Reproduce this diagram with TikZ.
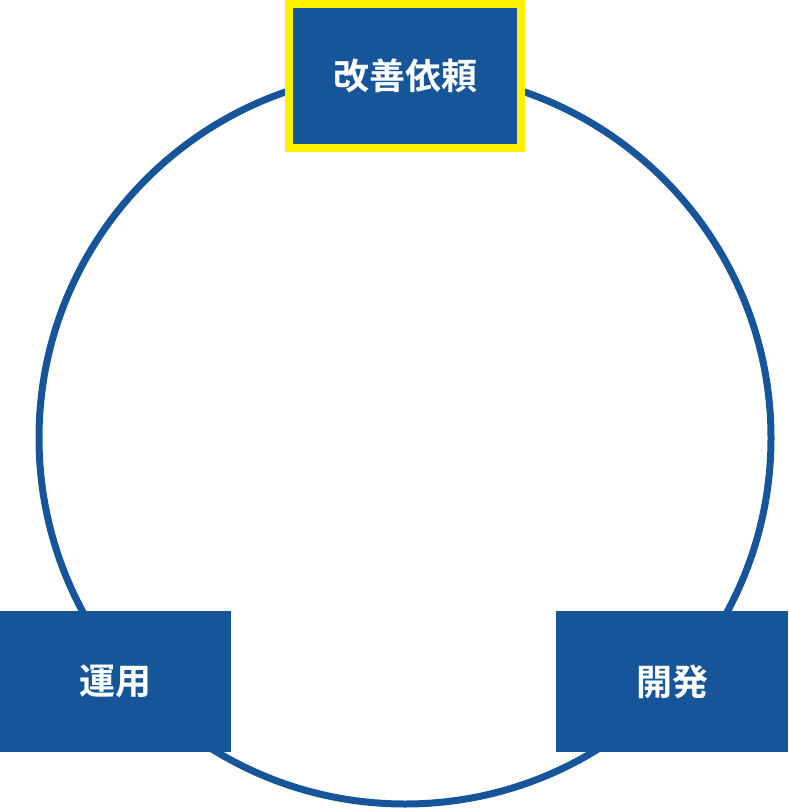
\documentclass[tikz,border=0pt]{standalone}
\usepackage{fontspec}
\newfontfamily\cjk{Noto Sans CJK JP Bold}
\definecolor{cblue}{HTML}{17559A}
\definecolor{cyel}{HTML}{FFF000}
\begin{document}
\begin{tikzpicture}[x=1pt,y=-1pt,
  box/.style={fill=cblue,text=white,font=\cjk\fontsize{36}{40}\selectfont,inner sep=0pt}]
\useasboundingbox (0,0) rectangle (788,808);
\draw[cblue,line width=7] (405,438) circle[radius=366];
\node[box,draw=cyel,line width=8,minimum width=232,minimum height=144] (kaizen) at (405,76) {改善依頼};
\node[box,minimum width=231,minimum height=141] (unyo) at (115.5,681.5) {運用};
\node[box,minimum width=232,minimum height=141] (kaihatsu) at (672,681.5) {開発};
\end{tikzpicture}
\end{document}
